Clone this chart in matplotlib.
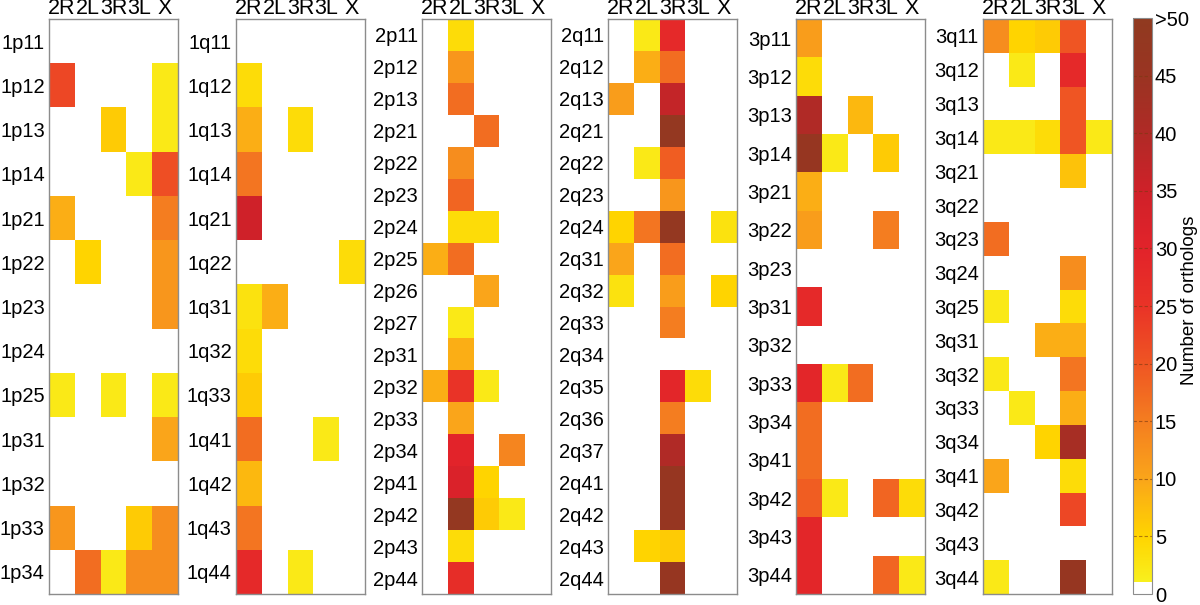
import numpy as np
import matplotlib
matplotlib.use("Agg")
import matplotlib.pyplot as plt
from matplotlib.colors import LinearSegmentedColormap, Normalize

plt.rcParams['font.family'] = ['Liberation Sans', 'DejaVu Sans']

arms = ['2R', '2L', '3R', '3L', 'X']

rows_1p = ['1p11', '1p12', '1p13', '1p14', '1p21', '1p22', '1p23', '1p24', '1p25',
           '1p31', '1p32', '1p33', '1p34']
vals_1p = [[0, 0, 0, 0, 0],
           [22, 0, 0, 0, 2],
           [0, 0, 6, 0, 2],
           [0, 0, 0, 2, 21],
           [9, 0, 0, 0, 15],
           [0, 5, 0, 0, 12],
           [0, 0, 0, 0, 12],
           [0, 0, 0, 0, 0],
           [2, 0, 2, 0, 2],
           [0, 0, 0, 0, 10],
           [0, 0, 0, 0, 0],
           [12, 0, 0, 6, 13],
           [0, 17, 2, 13, 13]]

rows_1q = ['1q11', '1q12', '1q13', '1q14', '1q21', '1q22', '1q31', '1q32', '1q33',
           '1q41', '1q42', '1q43', '1q44']
vals_1q = [[0, 0, 0, 0, 0],
           [4, 0, 0, 0, 0],
           [9, 0, 4, 0, 0],
           [16, 0, 0, 0, 0],
           [35, 0, 0, 0, 0],
           [0, 0, 0, 0, 4],
           [3, 9, 0, 0, 0],
           [4, 0, 0, 0, 0],
           [6, 0, 0, 0, 0],
           [17, 0, 0, 2, 0],
           [8, 0, 0, 0, 0],
           [16, 0, 0, 0, 0],
           [28, 0, 2, 0, 0]]

rows_2p = ['2p11', '2p12', '2p13', '2p21', '2p22', '2p23', '2p24', '2p25', '2p26',
           '2p27', '2p31', '2p32', '2p33', '2p34', '2p41', '2p42', '2p43', '2p44']
vals_2p = [[0, 4, 0, 0, 0],
           [0, 12, 0, 0, 0],
           [0, 17, 0, 0, 0],
           [0, 0, 17, 0, 0],
           [0, 13, 0, 0, 0],
           [0, 18, 0, 0, 0],
           [0, 4, 4, 0, 0],
           [9, 17, 0, 0, 0],
           [0, 0, 10, 0, 0],
           [0, 2, 0, 0, 0],
           [0, 9, 0, 0, 0],
           [9, 25, 2, 0, 0],
           [0, 10, 0, 0, 0],
           [0, 30, 0, 14, 0],
           [0, 32, 5, 0, 0],
           [0, 48, 6, 2, 0],
           [0, 4, 0, 0, 0],
           [0, 27, 0, 0, 0]]

rows_2q = ['2q11', '2q12', '2q13', '2q21', '2q22', '2q23', '2q24', '2q31', '2q32',
           '2q33', '2q34', '2q35', '2q36', '2q37', '2q41', '2q42', '2q43', '2q44']
vals_2q = [[0, 2, 28, 0, 0],
           [0, 9, 17, 0, 0],
           [11, 0, 37, 0, 0],
           [0, 0, 48, 0, 0],
           [0, 2, 19, 0, 0],
           [0, 0, 12, 0, 0],
           [5, 16, 48, 0, 3],
           [10, 0, 17, 0, 0],
           [3, 0, 11, 0, 5],
           [0, 0, 15, 0, 0],
           [0, 0, 0, 0, 0],
           [0, 0, 29, 4, 0],
           [0, 0, 15, 0, 0],
           [0, 0, 40, 0, 0],
           [0, 0, 47, 0, 0],
           [0, 0, 47, 0, 0],
           [0, 5, 6, 0, 0],
           [0, 0, 47, 0, 0]]

rows_3p = ['3p11', '3p12', '3p13', '3p14', '3p21', '3p22', '3p23', '3p31', '3p32',
           '3p33', '3p34', '3p41', '3p42', '3p43', '3p44']
vals_3p = [[11, 0, 0, 0, 0],
           [4, 0, 0, 0, 0],
           [40, 0, 8, 0, 0],
           [47, 2, 0, 6, 0],
           [9, 0, 0, 0, 0],
           [11, 0, 0, 15, 0],
           [0, 0, 0, 0, 0],
           [28, 0, 0, 0, 0],
           [0, 0, 0, 0, 0],
           [29, 2, 17, 0, 0],
           [17, 0, 0, 0, 0],
           [17, 0, 0, 0, 0],
           [19, 2, 0, 18, 4],
           [29, 0, 0, 0, 0],
           [29, 0, 0, 18, 2]]

rows_3q = ['3q11', '3q12', '3q13', '3q14', '3q21', '3q22', '3q23', '3q24', '3q25',
           '3q31', '3q32', '3q33', '3q34', '3q41', '3q42', '3q43', '3q44']
vals_3q = [[13, 5, 6, 20, 0],
           [0, 2, 0, 28, 0],
           [0, 0, 0, 20, 0],
           [2, 2, 4, 20, 2],
           [0, 0, 0, 7, 0],
           [0, 0, 0, 0, 0],
           [17, 0, 0, 0, 0],
           [0, 0, 0, 13, 0],
           [2, 0, 0, 4, 0],
           [0, 0, 9, 9, 0],
           [2, 0, 0, 16, 0],
           [0, 2, 0, 9, 0],
           [0, 0, 5, 42, 0],
           [10, 0, 0, 4, 0],
           [0, 0, 0, 22, 0],
           [0, 0, 0, 0, 0],
           [2, 0, 0, 47, 0]]

cbar_ticks = [0, 5, 10, 15, 20, 25, 30, 35, 40, 45, 50]
cbar_labels = ['0', '5', '10', '15', '20', '25', '30', '35', '40', '45', '>50']

# white for 0, then yellow -> orange -> red -> brown
cmap = LinearSegmentedColormap.from_list('orth', [
    (0.0, '#ffffff'), (0.0199, '#ffffff'), (0.02, '#f8f01e'),
    (0.1, '#ffd400'), (0.2, '#faa51a'), (0.3, '#f47d20'),
    (0.4, '#ef5523'), (0.5, '#e93327'), (0.6, '#e2232a'),
    (0.7, '#cf2129'), (0.8, '#b02a26'), (0.9, '#9a3422'), (1.0, '#903a20')], N=512)
norm = Normalize(vmin=0, vmax=50)

fig = plt.figure(figsize=(12, 6.05), dpi=100)
W, H = 1200, 605

panels = [(rows_1p, vals_1p, 49), (rows_1q, vals_1q, 236), (rows_2p, vals_2p, 422),
          (rows_2q, vals_2q, 608), (rows_3p, vals_3p, 796), (rows_3q, vals_3q, 983)]
top, bottom = 19, 594
pw = 129

for rows, vals, x0 in panels:
    ax = fig.add_axes([x0 / W, 1 - bottom / H, pw / W, (bottom - top) / H])
    data = np.array(vals, dtype=float)
    ax.pcolormesh(np.arange(6), np.arange(len(rows) + 1), data, cmap=cmap, norm=norm)
    ax.set_xlim(0, 5)
    ax.set_ylim(len(rows), 0)
    ax.set_xticks(np.arange(5) + 0.5)
    ax.set_xticklabels(arms, fontsize=15.5)
    ax.xaxis.tick_top()
    ax.set_yticks(np.arange(len(rows)) + 0.5)
    ax.set_yticklabels(rows, fontsize=14.5)
    ax.tick_params(axis='y', length=0, pad=3)
    ax.tick_params(axis='x', length=0, pad=0)
    for s in ax.spines.values():
        s.set_color('#8c8c8c')
        s.set_linewidth(1)

cax = fig.add_axes([1133 / W, 1 - 594 / H, 19 / W, (594 - 18) / H])
sm = plt.cm.ScalarMappable(cmap=cmap, norm=norm)
cb = fig.colorbar(sm, cax=cax, ticks=cbar_ticks)
cb.ax.set_yticklabels(cbar_labels, fontsize=14.5)
cb.ax.tick_params(length=0, pad=2)
cb.outline.set_edgecolor('#8c8c8c')
for t in cbar_ticks[1:-1]:
    cax.axhline(t, color='#7a3a10', lw=0.8, ls=(0, (3, 2)), alpha=0.6)
fig.text(1189 / W, 1 - 300 / H, 'Number of orthologs', rotation=90,
         ha='center', va='center', fontsize=13.5)

fig.savefig('out.png', dpi=100)
